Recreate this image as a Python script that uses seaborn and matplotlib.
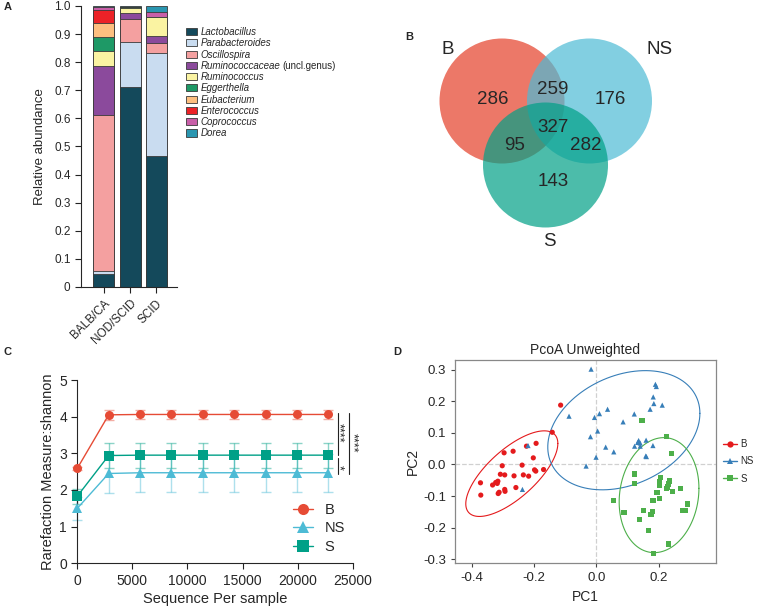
"""Four-panel microbiome summary: composition, Venn, rarefaction, PCoA."""

import matplotlib

matplotlib.use("Agg")
import matplotlib.pyplot as plt
import numpy as np
import pandas as pd
import seaborn as sns
from matplotlib.lines import Line2D
from matplotlib.patches import Circle, Patch

# ---- panel A: relative abundance -------------------------------------------
STRAINS = ["BALB/CA", "NOD/SCID", "SCID"]
GENERA = [
    "Lactobacillus", "Parabacteroides", "Oscillospira", "Ruminococcaceae",
    "Ruminococcus", "Eggerthella", "Eubacterium", "Enterococcus",
    "Coprococcus", "Dorea",
]
UNCL_SUFFIX = {"Ruminococcaceae": "(uncl.genus)"}
ABUND_BALB = [0.048, 0.009, 0.554, 0.174, 0.055, 0.048, 0.053, 0.045, 0.009, 0.005]
ABUND_NOD = [0.710, 0.163, 0.080, 0.021, 0.018, 0.003, 0.001, 0.001, 0.001, 0.002]
ABUND_SCID = [0.467, 0.365, 0.037, 0.024, 0.069, 0.0, 0.0, 0.0, 0.018, 0.020]
GENUS_COLORS = [
    "#14495B", "#C9DCF0", "#F4A0A0", "#8B4A9C", "#FAF3A2",
    "#1E9966", "#FDBF80", "#EC2227", "#C85FA8", "#2A96B0",
]

# ---- panel B: Venn counts --------------------------------------------------
VENN_SETS = ["B", "NS", "S"]
VENN_REGIONS = ["B", "NS", "S", "B&NS", "B&S", "NS&S", "B&NS&S"]
VENN_COUNTS = [286, 176, 143, 259, 95, 282, 327]

# ---- panel C: rarefaction --------------------------------------------------
GROUPS = ["B", "NS", "S"]
DEPTH = [0, 2850, 5700, 8550, 11400, 14250, 17100, 19950, 22800]
SHANNON_B = [2.59, 4.05, 4.06, 4.06, 4.06, 4.06, 4.06, 4.06, 4.06]
SEM_B = [0.05, 0.14, 0.13, 0.13, 0.13, 0.13, 0.13, 0.13, 0.13]
SHANNON_NS = [1.50, 2.45, 2.47, 2.47, 2.47, 2.47, 2.47, 2.47, 2.47]
SEM_NS = [0.32, 0.52, 0.52, 0.52, 0.52, 0.52, 0.52, 0.52, 0.52]
SHANNON_S = [1.83, 2.94, 2.95, 2.95, 2.95, 2.95, 2.95, 2.95, 2.95]
SEM_S = [0.20, 0.33, 0.34, 0.34, 0.34, 0.34, 0.34, 0.34, 0.34]

# ---- panel D: PCoA ---------------------------------------------------------
PC1_B = [-0.115, -0.142, -0.194, -0.225, -0.268, -0.297, -0.203, -0.303, -0.239,
         -0.199, -0.195, -0.170, -0.309, -0.295, -0.265, -0.235, -0.218, -0.373,
         -0.334, -0.324, -0.317, -0.319, -0.259, -0.295, -0.294, -0.313, -0.316,
         -0.372]
PC2_B = [0.188, 0.102, 0.067, 0.058, 0.042, 0.037, 0.021, -0.004, -0.002,
         -0.017, -0.021, -0.016, -0.031, -0.033, -0.036, -0.033, -0.037, -0.058,
         -0.065, -0.057, -0.053, -0.060, -0.073, -0.079, -0.085, -0.088, -0.092,
         -0.097]
PC1_NS = [-0.088, -0.220, -0.238, -0.033, -0.017, 0.190, 0.193, 0.183, 0.185,
          0.212, 0.173, 0.036, 0.010, -0.006, 0.122, 0.086, 0.004, -0.019,
          0.136, 0.133, 0.141, 0.160, 0.123, 0.141, 0.182, 0.030, 0.056, 0.159,
          0.161, -0.001]
PC2_NS = [0.153, 0.060, -0.079, -0.005, 0.302, 0.254, 0.247, 0.214, 0.193,
          0.188, 0.175, 0.175, 0.161, 0.149, 0.160, 0.135, 0.106, 0.088,
          0.076, 0.070, 0.068, 0.077, 0.058, 0.058, 0.060, 0.055, 0.040, 0.027,
          0.025, 0.023]
PC1_S = [0.147, 0.226, 0.242, 0.122, 0.123, 0.207, 0.204, 0.202, 0.236, 0.232,
         0.228, 0.226, 0.245, 0.272, 0.195, 0.202, 0.182, 0.056, 0.293, 0.277,
         0.285, 0.089, 0.151, 0.180, 0.176, 0.138, 0.169, 0.231, 0.185]
PC2_S = [0.139, 0.089, 0.034, -0.030, -0.059, -0.041, -0.055, -0.066, -0.052,
         -0.062, -0.071, -0.077, -0.085, -0.077, -0.089, -0.107, -0.113, -0.114,
         -0.125, -0.147, -0.147, -0.151, -0.145, -0.148, -0.158, -0.175, -0.210,
         -0.252, -0.283]

NPG = {"B": "#E64B35", "NS": "#4DBBD5", "S": "#00A087"}
SET1 = {"B": "#E41A1C", "NS": "#377EB8", "S": "#4DAF4A"}
MARKERS = {"B": "o", "NS": "^", "S": "s"}

W, H = 758, 610


def _rect(x0, y_top, x1, y_bottom):
    """Pixel box (top-left origin) to figure fraction rect."""
    return [x0 / W, 1 - y_bottom / H, (x1 - x0) / W, (y_bottom - y_top) / H]


def _trob_ellipse(x, y, level=0.95, nu=5, segments=120):
    """Multivariate-t confidence ellipse (like ggplot2 stat_ellipse)."""
    pts = np.column_stack([x, y])
    n, p = pts.shape
    loc = pts.mean(axis=0)
    w = np.ones(n)
    for _ in range(200):
        w0 = w
        X = pts - loc
        cov = (w[:, None] * X).T @ X / w.sum()
        q = np.einsum("ij,jk,ik->i", X, np.linalg.inv(cov), X)
        w = (nu + p) / (nu + q)
        loc = (w[:, None] * pts).sum(axis=0) / w.sum()
        if np.all(np.abs(w - w0) < 1e-6):
            break
    X = pts - loc
    cov = (w[:, None] * X).T @ X / n
    dfd = n - 1
    fq = dfd / 2 * ((1 - level) ** (-2 / dfd) - 1)
    radius = np.sqrt(2 * fq)
    t = np.linspace(0, 2 * np.pi, segments)
    circle = np.column_stack([np.cos(t), np.sin(t)])
    chol = np.linalg.cholesky(cov)
    return loc + radius * circle @ chol.T


sns.set_style("ticks")
plt.rcParams["font.family"] = ["Liberation Sans", "DejaVu Sans"]

fig = plt.figure(figsize=(W / 100, H / 100), dpi=100)

# ============================ A ============================================
ax_a = fig.add_axes(_rect(81, 6, 177, 287))
abund = pd.DataFrame(
    {"BALB/CA": ABUND_BALB, "NOD/SCID": ABUND_NOD, "SCID": ABUND_SCID},
    index=GENERA,
)
cum = abund.cumsum()
# stacked bars: draw cumulative totals from the top layer down
for genus, color in reversed(list(zip(GENERA, GENUS_COLORS))):
    sns.barplot(
        x=STRAINS,
        y=cum.loc[genus, STRAINS].values,
        color=color,
        saturation=1,
        width=0.8,
        edgecolor="#3a3a3a",
        linewidth=0.6,
        ax=ax_a,
    )
ax_a.set_xlim(-0.87, 2.79)
ax_a.set_ylim(0, 1.0)
ax_a.set_yticks(np.arange(0, 1.01, 0.1))
ax_a.set_yticklabels(["0"] + [f"{v:.1f}" for v in np.arange(0.1, 1.01, 0.1)])
ax_a.set_xticks(range(len(STRAINS)))
ax_a.set_xticklabels(STRAINS, rotation=45, ha="right", rotation_mode="anchor")
ax_a.tick_params(labelsize=8.5, length=4, width=0.8, color="#222222")
ax_a.set_ylabel("Relative abundance", fontsize=9.5, labelpad=6)
ax_a.set_xlabel("")
sns.despine(ax=ax_a)
for s in ("left", "bottom"):
    ax_a.spines[s].set_linewidth(0.8)

handles = [Patch(facecolor=c, edgecolor="#3a3a3a", linewidth=0.6) for c in GENUS_COLORS]
leg_a = fig.legend(
    handles, GENERA,
    loc="upper left", bbox_to_anchor=(186 / W, 1 - 27 / H),
    frameon=False, prop={"size": 7, "style": "italic"},
    handlelength=1.15, handleheight=0.75,
    handletextpad=0.35, labelspacing=0.13, borderpad=0, borderaxespad=0,
)
# upright suffix after the italic family name
fig.canvas.draw()
for txt in leg_a.get_texts():
    suffix = UNCL_SUFFIX.get(txt.get_text())
    if suffix:
        bb = txt.get_window_extent()
        fig.text((bb.x1 + 2.5) / W, bb.y0 / H, suffix, fontsize=7, va="bottom")

# ============================ B ============================================
ax_b = fig.add_axes(_rect(410, 20, 690, 260))
ax_b.set_xlim(-2.168, 2.312)
ax_b.set_ylim(-2.203, 1.637)
ax_b.axis("off")
centers = {"B": (-0.696, 0.341), "NS": (0.704, 0.341), "S": (0.0, -0.683)}
alphas = {"B": 0.75, "NS": 0.7, "S": 0.7}
for name in VENN_SETS:
    ax_b.add_patch(Circle(centers[name], 1.0, facecolor=NPG[name],
                          alpha=alphas[name], edgecolor="none"))
region_xy = {
    "B": (-0.84, 0.373), "NS": (1.032, 0.373), "S": (0.12, -0.955),
    "B&NS": (0.12, 0.533), "B&S": (-0.488, -0.363), "NS&S": (0.648, -0.363),
    "B&NS&S": (0.12, -0.091),
}
for region, count in zip(VENN_REGIONS, VENN_COUNTS):
    ax_b.text(*region_xy[region], str(count), fontsize=13.5, ha="center", va="center")
set_label_xy = {"B": (-1.56, 1.173), "NS": (1.832, 1.157), "S": (0.056, -1.9)}
for name in VENN_SETS:
    ax_b.text(*set_label_xy[name], name, fontsize=13.5, ha="center", va="center")

# ============================ C ============================================
ax_c = fig.add_axes(_rect(77.3, 380, 352.7, 563.3))
rare = pd.DataFrame({
    "depth": DEPTH * 3,
    "shannon": SHANNON_B + SHANNON_NS + SHANNON_S,
    "sem": SEM_B + SEM_NS + SEM_S,
    "group": ["B"] * len(DEPTH) + ["NS"] * len(DEPTH) + ["S"] * len(DEPTH),
})
for g in GROUPS:
    sub = rare[rare["group"] == g]
    ax_c.errorbar(sub["depth"], sub["shannon"], yerr=sub["sem"], fmt="none",
                  ecolor=NPG[g], alpha=0.45, capsize=3.5, elinewidth=1.0,
                  capthick=1.0, clip_on=False, zorder=2)
sns.lineplot(
    data=rare, x="depth", y="shannon", hue="group", style="group",
    palette=NPG, markers=MARKERS, dashes=False, markersize=6.5,
    markeredgewidth=0, linewidth=1.0, errorbar=None, legend=False,
    clip_on=False, zorder=3, ax=ax_c,
)
ax_c.set_xlim(0, 25000)
ax_c.set_ylim(0, 5)
ax_c.set_xticks(range(0, 25001, 5000))
ax_c.set_yticks(range(0, 6))
ax_c.tick_params(labelsize=10, length=4, width=0.8, color="#222222")
ax_c.set_xlabel("Sequence Per sample", fontsize=10.5, labelpad=3)
ax_c.set_ylabel("Rarefaction Measure:shannon", fontsize=10.5, labelpad=3)
sns.despine(ax=ax_c)
for s in ("left", "bottom"):
    ax_c.spines[s].set_linewidth(0.8)

# significance brackets
for x, y0, y1, stars, tx, ty in [
    (23665, 4.09, 2.95, "****", 23670, 3.55),
    (24664, 4.09, 2.43, "****", 24990, 3.28),
    (23665, 2.86, 2.43, "*", 23670, 2.62),
]:
    ax_c.plot([x, x], [y0, y1], color="#222222", lw=0.8, clip_on=False)
    ax_c.text(tx, ty, stars, rotation=270, fontsize=9, ha="center", va="center")

c_handles = [
    Line2D([], [], color=NPG[g], marker=MARKERS[g], markersize=8,
           markeredgewidth=0, linewidth=1.0)
    for g in GROUPS
]
ax_c.legend(
    c_handles, GROUPS, loc="upper left", bbox_to_anchor=(293 / W, 1 - 503 / H),
    bbox_transform=fig.transFigure, frameon=False, fontsize=10.5,
    handlelength=1.35, handletextpad=0.8, labelspacing=0.3, borderpad=0,
    borderaxespad=0,
)

# ============================ D ============================================
ax_d = fig.add_axes(_rect(455, 360, 716, 563.3))
pcoa = pd.DataFrame({
    "PC1": PC1_B + PC1_NS + PC1_S,
    "PC2": PC2_B + PC2_NS + PC2_S,
    "group": ["B"] * len(PC1_B) + ["NS"] * len(PC1_NS) + ["S"] * len(PC1_S),
})
ax_d.axhline(0, color="#d0d0d0", ls="--", lw=0.9, zorder=0)
ax_d.axvline(0, color="#d0d0d0", ls="--", lw=0.9, zorder=0)
sns.scatterplot(
    data=pcoa, x="PC1", y="PC2", hue="group", style="group",
    palette=SET1, markers=MARKERS, s=14, linewidth=0, legend=False,
    zorder=3, ax=ax_d,
)
for g in GROUPS:
    sub = pcoa[pcoa["group"] == g]
    ell = _trob_ellipse(sub["PC1"].values, sub["PC2"].values)
    ax_d.plot(ell[:, 0], ell[:, 1], color=SET1[g], lw=0.8, zorder=2)
ax_d.set_xlim(-0.455, 0.385)
ax_d.set_ylim(-0.313, 0.331)
ax_d.set_xticks([-0.4, -0.2, 0.0, 0.2])
ax_d.set_yticks([-0.3, -0.2, -0.1, 0.0, 0.1, 0.2, 0.3])
ax_d.xaxis.set_major_formatter(matplotlib.ticker.FormatStrFormatter("%.1f"))
ax_d.yaxis.set_major_formatter(matplotlib.ticker.FormatStrFormatter("%.1f"))
ax_d.tick_params(labelsize=9.5, length=3, width=0.8, color="#444444")
for s in ax_d.spines.values():
    s.set_color("#888888")
    s.set_linewidth(0.9)
ax_d.set_xlabel("PC1", fontsize=10, labelpad=4)
ax_d.set_ylabel("PC2", fontsize=10, labelpad=2)
ax_d.set_title("PcoA Unweighted", fontsize=10, pad=4)

d_handles = [
    Line2D([], [], color=SET1[g], marker=MARKERS[g], markersize=4.5,
           markeredgewidth=0, linewidth=1.0)
    for g in GROUPS
]
ax_d.legend(
    d_handles, GROUPS, loc="upper left", bbox_to_anchor=(723 / W, 1 - 439 / H),
    bbox_transform=fig.transFigure, frameon=False, fontsize=7,
    handlelength=1.4, handletextpad=0.4, labelspacing=0.75, borderpad=0,
    borderaxespad=0,
)

# panel letters
for letter, (px, py) in {"A": (4, 10), "B": (405, 40), "C": (4, 355), "D": (393, 355)}.items():
    fig.text(px / W, 1 - py / H, letter, fontsize=8, fontweight="bold")

fig.savefig("out.png", dpi=100)
